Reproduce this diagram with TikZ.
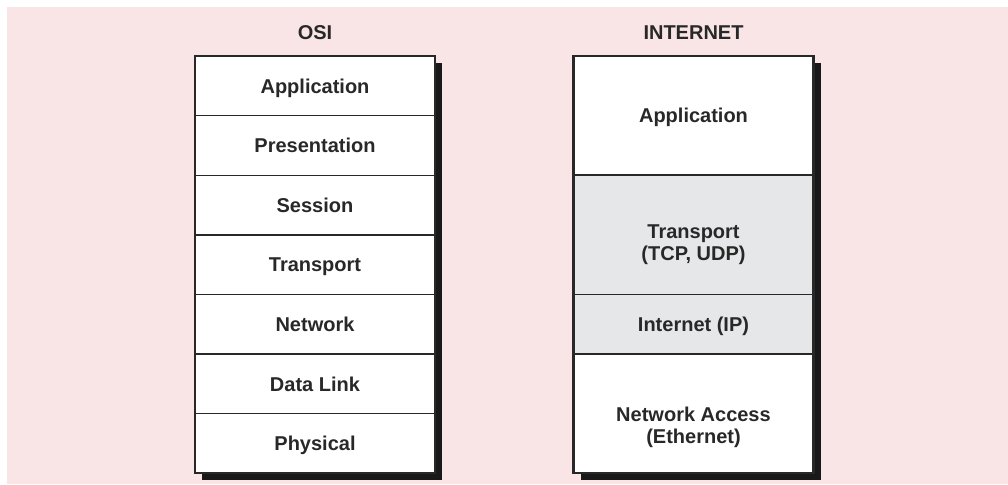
\documentclass[tikz,border=0pt]{standalone}
\usepackage{fontspec}
\setmainfont{Liberation Sans}
\usepackage{tikz}
\usetikzlibrary{positioning,backgrounds}
\definecolor{bgpink}{RGB}{249,229,230}
\definecolor{laygray}{RGB}{230,231,232}
\definecolor{inkgray}{RGB}{40,40,40}

\begin{document}
\begin{tikzpicture}[x=1pt,y=-1pt,
  font=\fontsize{20}{22}\selectfont\bfseries,text=inkgray,
  layer/.style={rectangle,draw=inkgray,line width=1.4pt,fill=white,minimum width=240pt,
    minimum height=59.6pt,inner sep=0pt,outer sep=0pt,align=center,
    text height=14.5pt,text depth=0pt},
  tall/.style={layer,minimum height=119.2pt},
  shade/.style={fill=laygray}]
\useasboundingbox (0,0) rectangle (1008,484);
% column titles
\node(osi) at (315,33){OSI};
\node(inet) at (693.5,33){INTERNET};
% OSI stack
\node[layer](osi1) at (315,85.8){Application};
\node[layer,below=0pt of osi1](osi2){Presentation};
\node[layer,below=0pt of osi2](osi3){Session};
\node[layer,below=0pt of osi3](osi4){Transport};
\node[layer,below=0pt of osi4](osi5){Network};
\node[layer,below=0pt of osi5](osi6){Data Link};
\node[layer,below=0pt of osi6](osi7){Physical};
% internet stack
\node[tall](inet1) at (693.5,115.4){Application};
\node[tall,shade,below=0pt of inet1,text height=56pt,text depth=4.5pt](inet2){Transport\\(TCP, UDP)};
\node[layer,shade,below=0pt of inet2](inet3){Internet (IP)};
\node[tall,below=0pt of inet3,text height=64pt,text depth=4.5pt](inet4){Network Access\\(Ethernet)};
% outer frames
\draw[inkgray,line width=2.2pt](osi1.north west) rectangle (osi7.south east);
\draw[inkgray,line width=2.2pt](inet1.north west) rectangle (inet4.south east);
% backdrop and shadows
\begin{scope}[on background layer]
\fill[bgpink](7,7) rectangle (1008,484);
\fill[black!90]([shift={(7,7)}]osi1.north west) rectangle ([shift={(7,7)}]osi7.south east);
\fill[black!90]([shift={(7,7)}]inet1.north west) rectangle ([shift={(7,7)}]inet4.south east);
\end{scope}
\end{tikzpicture}
\end{document}
